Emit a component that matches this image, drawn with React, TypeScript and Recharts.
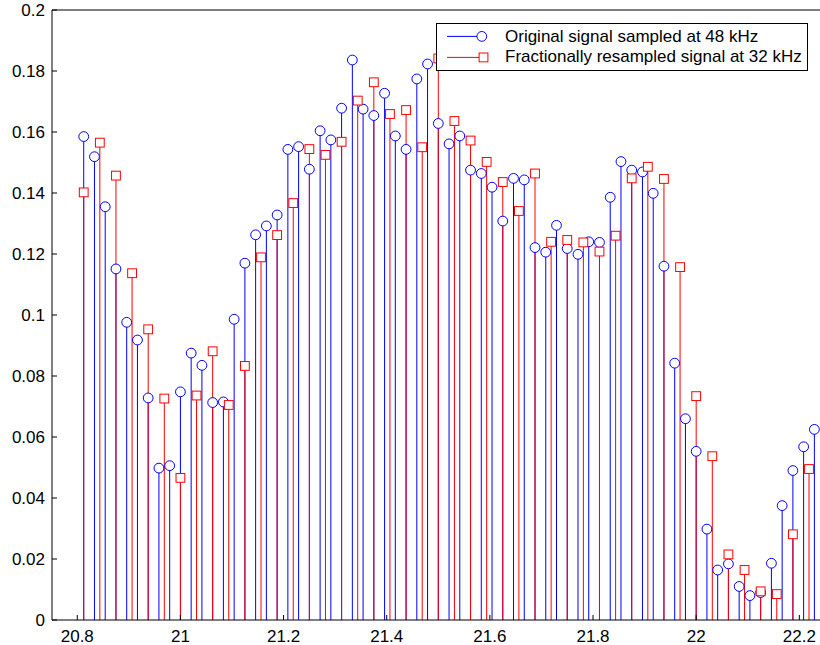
import React from 'react';
import { ComposedChart, Scatter, XAxis, YAxis, ErrorBar, Legend } from 'recharts';

// sample rates (kHz) and index of the first sample shown
const blueRateKHz = 48;
const redRateKHz = 32;
const blueFirstIndex = 999;
const redFirstIndex = 666;

const blueValues = [
  0.1585, 0.1519, 0.1355, 0.1151, 0.0976, 0.0918, 0.0728, 0.0498, 0.0506, 0.0748,
  0.0875, 0.0835, 0.0713, 0.0715, 0.0986, 0.117, 0.1263, 0.1292, 0.1328, 0.1543,
  0.1552, 0.1478, 0.1604, 0.1574, 0.1678, 0.1836, 0.1675, 0.1654, 0.1727, 0.1587,
  0.1543, 0.1774, 0.1823, 0.1628, 0.1561, 0.1587, 0.1475, 0.1464, 0.1419, 0.1308,
  0.1448, 0.1443, 0.1221, 0.1206, 0.1294, 0.1218, 0.1199, 0.124, 0.1238, 0.1386,
  0.1503, 0.1475, 0.1469, 0.1399, 0.116, 0.0842, 0.066, 0.0553, 0.0298, 0.0164,
  0.0184, 0.011, 0.008, 0.009, 0.0186, 0.0375, 0.049, 0.0568, 0.0625,
];

const redValues = [
  0.1402, 0.1565, 0.1457, 0.1137, 0.0953, 0.0726, 0.0466, 0.0736, 0.0881, 0.0705,
  0.0833, 0.1189, 0.1262, 0.1367, 0.1544, 0.1525, 0.1568, 0.1703, 0.1763, 0.1659,
  0.1672, 0.155, 0.1841, 0.1636, 0.1572, 0.1502, 0.1436, 0.1341, 0.1464, 0.124,
  0.1246, 0.1238, 0.1208, 0.126, 0.1448, 0.1486, 0.1446, 0.1157, 0.0734, 0.0537,
  0.0215, 0.0164, 0.0094, 0.0085, 0.0281, 0.0495,
];

const xTicks = [20.8, 21, 21.2, 21.4, 21.6, 21.8, 22, 22.2];
const yTicks = [0, 0.02, 0.04, 0.06, 0.08, 0.1, 0.12, 0.14, 0.16, 0.18, 0.2];
const xDomain: [number, number] = [20.751, 22.242];
const yDomain: [number, number] = [0, 0.2];

const legendLabels = [
  'Original signal sampled at 48 kHz',
  'Fractionally resampled signal at 32 kHz',
];

const BLUE = '#0000ff';
const RED = '#ff0000';
const FONT = '"Liberation Sans", Arial, Helvetica, sans-serif';

const blueData = blueValues.map((v, i) => ({
  t: (blueFirstIndex + i) / blueRateKHz,
  v,
  stem: [v, 0],
}));
const redData = redValues.map((v, i) => ({
  t: (redFirstIndex + i) / redRateKHz,
  v,
  stem: [v, 0],
}));

const stemKey = (d: any) => (d && d.stem ? d.stem : d && d.payload ? d.payload.stem : [0, 0]);

const CircleMark = (props: any) => (
  <circle cx={props.cx} cy={props.cy} r={4.9} fill="#fff" stroke={BLUE} strokeWidth={1} />
);
const SquareMark = (props: any) => (
  <rect x={props.cx - 4.4} y={props.cy - 4.4} width={8.8} height={8.8} fill="#fff" stroke={RED} strokeWidth={1} />
);

const LegendBox = () => (
  <div
    style={{
      width: 372,
      height: 48,
      boxSizing: 'border-box',
      border: '1px solid #000',
      background: '#fff',
    }}
  >
    <svg width={370} height={46} style={{ display: 'block', fontFamily: FONT }}>
      <line x1={10} y1={12.4} x2={44.8} y2={12.4} stroke={BLUE} strokeWidth={1} />
      <circle cx={44.8} cy={12.4} r={4.9} fill="#fff" stroke={BLUE} strokeWidth={1} />
      <text x={68} y={18} fontSize={17} fill="#000">{legendLabels[0]}</text>
      <line x1={10} y1={33.4} x2={46.5} y2={33.4} stroke={RED} strokeWidth={1} />
      <rect x={46.5 - 4.4} y={33.4 - 4.4} width={8.8} height={8.8} fill="#fff" stroke={RED} strokeWidth={1} />
      <text x={68} y={38.4} fontSize={17} fill="#000">{legendLabels[1]}</text>
    </svg>
  </div>
);

const tickStyle = { fontSize: 17, fill: '#000', fontFamily: FONT };

export default function App() {
  return (
    <div
      style={{
        position: 'fixed',
        left: 0,
        top: 0,
        width: 820,
        height: 645,
        overflow: 'hidden',
        background: '#fff',
      }}
    >
      <ComposedChart
        width={822}
        height={645}
        margin={{ top: 9, right: 0, bottom: 0, left: 0 }}
        style={{ fontFamily: FONT }}
      >
        <XAxis
          xAxisId="b"
          dataKey="t"
          type="number"
          domain={xDomain}
          ticks={xTicks}
          interval={0}
          allowDataOverflow
          height={25}
          tickSize={-5}
          tickMargin={15}
          axisLine={{ stroke: '#000', strokeWidth: 1 }}
          tickLine={{ stroke: '#000', strokeWidth: 1 }}
          tick={tickStyle}
          tickFormatter={(v: number) => String(v)}
        />
        <XAxis
          xAxisId="t"
          orientation="top"
          type="number"
          domain={xDomain}
          ticks={xTicks}
          interval={0}
          allowDataOverflow
          height={1}
          tickSize={-5}
          axisLine={{ stroke: '#000', strokeWidth: 1 }}
          tickLine={{ stroke: '#000', strokeWidth: 1 }}
          tick={false}
        />
        <YAxis
          yAxisId="l"
          type="number"
          domain={yDomain}
          ticks={yTicks}
          interval={0}
          allowDataOverflow
          width={52}
          tickSize={-5}
          tickMargin={12}
          axisLine={{ stroke: '#000', strokeWidth: 1 }}
          tickLine={{ stroke: '#000', strokeWidth: 1 }}
          tick={tickStyle}
          tickFormatter={(v: number) => String(v)}
        />
        <YAxis
          yAxisId="r"
          orientation="right"
          type="number"
          domain={yDomain}
          ticks={yTicks}
          interval={0}
          allowDataOverflow
          width={1}
          tickSize={-5}
          axisLine={{ stroke: '#000', strokeWidth: 1 }}
          tickLine={{ stroke: '#000', strokeWidth: 1 }}
          tick={false}
        />
        <Scatter
          name={legendLabels[0]}
          data={blueData}
          dataKey="v"
          xAxisId="b"
          yAxisId="l"
          shape={CircleMark}
          isAnimationActive={false}
        >
          <ErrorBar dataKey={stemKey} direction="y" width={0} stroke={BLUE} strokeWidth={1} isAnimationActive={false} />
        </Scatter>
        <Scatter
          name={legendLabels[1]}
          data={redData}
          dataKey="v"
          xAxisId="b"
          yAxisId="l"
          shape={SquareMark}
          isAnimationActive={false}
        >
          <ErrorBar dataKey={stemKey} direction="y" width={0} stroke={RED} strokeWidth={1} isAnimationActive={false} />
        </Scatter>
        <Legend
          layout="vertical"
          align="center"
          verticalAlign="middle"
          content={() => <LegendBox />}
          wrapperStyle={{ left: 436, top: 23.3, width: 372, height: 48 }}
        />
      </ComposedChart>
    </div>
  );
}
